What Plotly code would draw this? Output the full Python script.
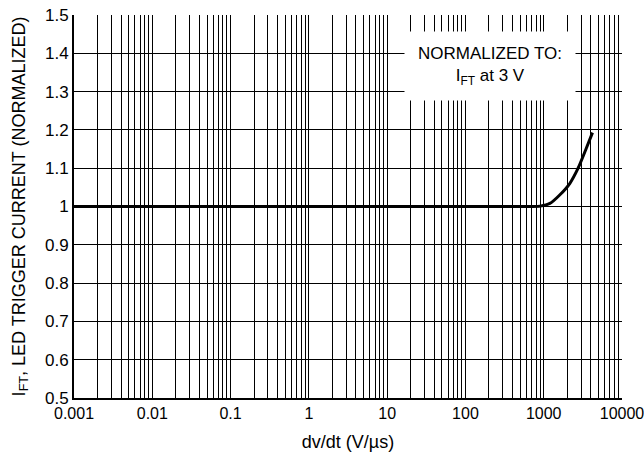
import plotly.graph_objects as go

dvdt = [0.001, 0.01, 0.1, 1, 10, 100, 400, 700, 900, 1200, 1600, 2150, 2750, 3500, 4200]
ift_norm = [1.0, 1.0, 1.0, 1.0, 1.0, 1.0, 1.0, 1.0, 1.001, 1.008, 1.03, 1.06, 1.10, 1.152, 1.193]

x_tickvals = [0.001, 0.01, 0.1, 1, 10, 100, 1000, 10000]
x_ticktext = ["0.001", "0.01", "0.1", "1", "10", "100", "1000", "10000"]
y_tickvals = [0.5, 0.6, 0.7, 0.8, 0.9, 1.0, 1.1, 1.2, 1.3, 1.4, 1.5]
y_ticktext = ["0.5", "0.6", "0.7", "0.8", "0.9", "1", "1.1", "1.2", "1.3", "1.4", "1.5"]

note_text = "NORMALIZED TO:<br>I<sub>FT</sub> at 3 V"
note_logx = 2.314
note_y = 1.367

font_family = "Liberation Sans, Arial, sans-serif"

fig = go.Figure()
fig.add_trace(go.Scatter(x=dvdt, y=ift_norm, mode="lines",
                         line=dict(color="black", width=3, shape="spline", smoothing=0.7),
                         showlegend=False, hoverinfo="skip"))

fig.add_annotation(x=note_logx, y=note_y, xref="x", yref="y",
                   text=note_text, showarrow=False, bgcolor="white", align="center",
                   width=170, height=68, borderpad=0,
                   font=dict(family=font_family, size=17, color="black"))

fig.update_layout(
    width=644, height=459,
    margin=dict(l=74, r=22, t=15, b=61, autoexpand=False),
    paper_bgcolor="white", plot_bgcolor="white",
    font=dict(family=font_family, size=17, color="black"),
    xaxis=dict(type="log", range=[-3, 4], tickvals=x_tickvals, ticktext=x_ticktext,
               automargin=True, ticklabeloverflow="allow",
               showgrid=True, gridcolor="black", gridwidth=1,
               minor=dict(dtick="D1", showgrid=True, gridcolor="black", gridwidth=1, ticks=""),
               showline=True, linecolor="black", linewidth=2,
               ticks="", tickfont=dict(size=16),
               title=dict(text="dv/dt (V/µs)", font=dict(size=18), standoff=14)),
    yaxis=dict(range=[0.5, 1.5], tickvals=y_tickvals, ticktext=y_ticktext,
               automargin=True,
               showgrid=True, gridcolor="black", gridwidth=1, zeroline=False,
               showline=True, linecolor="black", linewidth=2,
               ticks="", tickfont=dict(size=17),
               title=dict(text="I<sub>FT</sub>, LED TRIGGER CURRENT (NORMALIZED)",
                          font=dict(size=18), standoff=15)),
)
fig.write_html("out.html", config={"displayModeBar": False},
               post_script="document.body.style.margin='0';")
